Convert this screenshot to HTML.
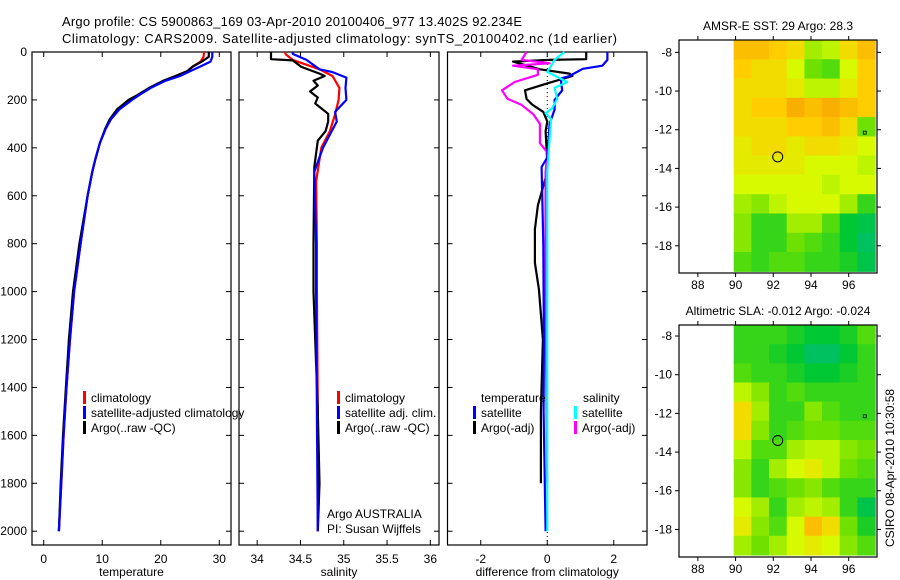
<!DOCTYPE html>
<html><head><meta charset="utf-8"><style>
html,body{margin:0;padding:0;background:#fff;}
svg{display:block;font-family:"Liberation Sans",sans-serif;}
</style></head><body>
<svg id="c" width="900" height="580" viewBox="0 0 900 580"></svg>
<script>
// ---- data ----
const tDepth = [0,20,40,60,80,100,120,150,180,200,240,280,320,380,450,500,600,700,800,1000,1200,1400,1600,1800,2000];
const tClim  = [27.4,27.3,26.8,25.5,24.5,23.0,20.5,18.2,16.3,15.0,12.9,11.5,10.6,9.6,8.8,8.3,7.5,6.9,6.3,5.2,4.5,3.9,3.4,3.0,2.6];
const tSat   = [28.8,28.8,28.5,26.8,25.0,23.3,20.8,18.3,16.3,15.1,12.9,11.5,10.6,9.6,8.8,8.3,7.5,6.9,6.3,5.2,4.5,3.9,3.4,3.0,2.6];
const tArgo  = [28.2,28.2,27.0,25.5,24.5,22.5,20.4,18.0,16.0,14.5,12.5,11.3,10.5,9.6,8.8,8.3,7.5,6.8,6.1,5.0,4.3,3.8,3.3,2.9,2.6];

const sClimDepth = [0,10,33,72,100,150,200,260,330,400,540,800,1000,1500,2000];
const sClim      = [34.32,34.33,34.41,34.72,34.87,34.95,34.94,34.90,34.84,34.74,34.68,34.69,34.69,34.70,34.70];
const sSatDepth  = [0,8,33,72,84,107,150,200,250,290,400,500,800,1000,1500,2000];
const sSat       = [34.41,34.41,34.57,34.72,34.87,35.03,35.02,35.03,34.90,34.92,34.76,34.66,34.68,34.68,34.69,34.70];
const sArgoDepth = [0,30,35,62,90,100,120,140,165,190,215,258,290,330,370,480,800,1000,1500,1800,2000];
const sArgo      = [34.16,34.16,34.41,34.51,34.72,34.78,34.65,34.70,34.61,34.70,34.67,34.82,34.82,34.79,34.70,34.66,34.65,34.65,34.70,34.72,34.70];

const dTSatDepth  = [0,33,57,70,100,110,130,160,200,240,300,440,480,800,1200,1500,2000];
const dTSat       = [1.81,1.81,1.66,1.07,0.67,0.42,0.42,0.45,0.22,0.22,0.07,0.0,-0.17,-0.12,-0.1,-0.11,-0.05];
const dTArgoDepth = [0,30,33,40,72,90,100,128,160,196,220,250,290,330,460,500,640,740,880,990,1200,1500,1800];
const dTArgo      = [1.17,1.17,0.07,-1.03,-0.22,0.67,0.76,0.07,-0.67,-0.62,-0.45,-0.12,0.0,-0.05,0.0,0.0,-0.28,-0.37,-0.37,-0.25,-0.13,-0.19,-0.19];
const dSSatDepth  = [0,33,57,83,125,150,195,235,255,280,360,500,1000,1500,2000];
const dSSat       = [0.52,0.22,0.12,0.0,0.6,0.22,0.3,0.15,-0.05,0.12,0.07,0.0,0.0,0.0,0.0];
const dSArgoDepth = [0,33,47,57,72,95,125,160,195,220,260,300,380,420,500,1000,1500,1800];
const dSArgo      = [-0.62,-0.77,0.07,-1.03,-0.28,-0.28,-0.98,-1.36,-1.2,-0.78,-0.42,-0.22,-0.22,0.0,-0.05,-0.06,-0.02,0.0];

const depthTicks = [0,200,400,600,800,1000,1200,1400,1600,1800,2000];
const tTicks = [0,10,20,30];
const sTicks = [34,34.5,35,35.5,36];
const dTicks = [-2,0,2];
const lonTicks = [88,90,92,94,96];
const latTicks = [-8,-10,-12,-14,-16,-18];

const sstGrid = [
 [0.8,0.8,0.75,0.7,0.5,0.55,0.7,0.8],
 [0.75,0.7,0.7,0.6,0.4,0.35,0.6,0.75],
 [0.7,0.7,0.7,0.65,0.55,0.55,0.65,0.75],
 [0.7,0.75,0.75,0.85,0.8,0.85,0.8,0.75],
 [0.7,0.7,0.7,0.75,0.75,0.8,0.7,0.4],
 [0.65,0.7,0.7,0.65,0.7,0.7,0.65,0.6],
 [0.65,0.65,0.65,0.65,0.6,0.6,0.6,0.55],
 [0.6,0.6,0.6,0.6,0.6,0.55,0.6,0.6],
 [0.5,0.45,0.55,0.6,0.6,0.6,0.5,0.3],
 [0.45,0.3,0.3,0.5,0.5,0.35,0.2,0.15],
 [0.45,0.3,0.3,0.4,0.35,0.3,0.2,0.1],
 [0.35,0.3,0.35,0.35,0.3,0.3,0.25,0.15]];
const slaGrid = [
 [0.3,0.3,0.3,0.25,0.2,0.2,0.25,0.35],
 [0.3,0.3,0.25,0.2,0.1,0.1,0.2,0.3],
 [0.35,0.3,0.3,0.25,0.2,0.2,0.25,0.3],
 [0.55,0.45,0.3,0.35,0.3,0.3,0.3,0.3],
 [0.7,0.5,0.3,0.3,0.45,0.35,0.3,0.3],
 [0.7,0.45,0.3,0.35,0.4,0.4,0.35,0.35],
 [0.55,0.35,0.35,0.5,0.55,0.55,0.45,0.4],
 [0.45,0.3,0.5,0.6,0.65,0.55,0.4,0.35],
 [0.45,0.3,0.35,0.4,0.45,0.35,0.3,0.3],
 [0.6,0.5,0.3,0.5,0.55,0.5,0.3,0.15],
 [0.65,0.45,0.35,0.6,0.8,0.7,0.4,0.25],
 [0.5,0.4,0.5,0.6,0.65,0.6,0.45,0.35]];
const floatLon = 92.234, floatLat = -13.402;

// ---- helpers ----
const NS = "http://www.w3.org/2000/svg";
const svg = document.getElementById('c');
function mk(tag, attrs, parent){
  const e = document.createElementNS(NS, tag);
  for (const k in attrs) e.setAttribute(k, attrs[k]);
  (parent||svg).appendChild(e);
  return e;
}
function txt(x,y,s,anchor,size,parent){
  const t = mk('text',{x:x,y:y,'font-size':size||12,'text-anchor':anchor||'start',fill:'#000'},parent);
  t.textContent = s; return t;
}
const Y0 = 52, YB = 545, DMAX = (YB-Y0)/0.2396;
const yD = d => Y0 + d*0.2396;

function panel(name,x0,x1,xmin,xmax,ticks,label,tickFmt,showY){
  const xs = v => x0 + (v-xmin)/(xmax-xmin)*(x1-x0);
  const g = mk('g',{});
  
  
  const r = mk('rect',{x:x0,y:Y0,width:x1-x0,height:YB-Y0,fill:'none',stroke:'#000','stroke-width':1.2},g);
  
  
  ticks.forEach(v=>{
    const x = xs(v);
    mk('line',{x1:x,x2:x,y1:YB,y2:YB-5,stroke:'#000'},g);
    mk('line',{x1:x,x2:x,y1:Y0,y2:Y0+5,stroke:'#000'},g);
    const t = txt(x,563,tickFmt(v),'middle',12,g);
    
    
  });
  depthTicks.forEach(d=>{
    const y = yD(d);
    mk('line',{x1:x0,x2:x0+5,y1:y,y2:y,stroke:'#000'},g);
    mk('line',{x1:x1,x2:x1-5,y1:y,y2:y,stroke:'#000'},g);
    if (showY){
      const t = txt(x0-5,y+4,String(d),'end',12,g);
      
      
    }
  });
  const l = txt((x0+x1)/2,576,label,'middle',12,g);
  
  
  return {xs,g};
}
function series(p,depths,vals,color,name,w){
  const pts = depths.map((d,i)=>p.xs(vals[i]).toFixed(1)+','+yD(d).toFixed(1)).join(' ');
  const pl = mk('polyline',{points:pts,fill:'none',stroke:color,'stroke-width':w||2.2,'stroke-linejoin':'round'},p.g);
  
  
}
function legendEntry(g,x,y,color,label,name){
  const e = mk('g',{},g);
  
  
  mk('rect',{x:x,y:y-11,width:3,height:13,fill:color},e);
  txt(x+8,y,label,'start',12,e);
}

// ---- titles ----
const t1 = txt(62,26,'Argo profile: CS 5900863_169 03-Apr-2010 20100406_977 13.402S 92.234E','start',13);
t1.setAttribute('textLength','460');


const t2 = txt(62,43,'Climatology: CARS2009. Satellite-adjusted climatology: synTS_20100402.nc (1d earlier)','start',13);
t2.setAttribute('textLength','555');



// ---- panel 1: temperature ----
const p1 = panel('temperature-panel',32,231,-2,32,tTicks,'temperature',v=>String(v),true);
series(p1,tDepth,tClim,'#ff0000','temperature-climatology-line');
series(p1,tDepth,tArgo,'#000000','temperature-argo-line');
series(p1,tDepth,tSat,'#0000ff','temperature-satellite-line');
legendEntry(p1.g,83,402,'#ff0000','climatology','legend-entry-climatology');
legendEntry(p1.g,83,417,'#0000ff','satellite-adjusted climatology','legend-entry-satellite-adjusted');
legendEntry(p1.g,83,432,'#000000','Argo(..raw -QC)','legend-entry-argo');

// ---- panel 2: salinity ----
const p2 = panel('salinity-panel',239,439,33.79,36.1,sTicks,'salinity',v=>String(v),false);
series(p2,sClimDepth,sClim,'#ff0000','salinity-climatology-line');
series(p2,sArgoDepth,sArgo,'#000000','salinity-argo-line');
series(p2,sSatDepth,sSat,'#0000ff','salinity-satellite-line');
legendEntry(p2.g,337,402,'#ff0000','climatology','legend-entry-sal-climatology');
legendEntry(p2.g,337,417,'#0000ff','satellite adj. clim.','legend-entry-sal-satellite');
legendEntry(p2.g,337,432,'#000000','Argo(..raw -QC)','legend-entry-sal-argo');
const ag = txt(327,518,'Argo AUSTRALIA','start',12,p2.g);


const pi = txt(327,533,'PI: Susan Wijffels','start',12,p2.g);



// ---- panel 3: differences ----
const p3 = panel('difference-panel',447.5,647,-3,3,dTicks,'difference from climatology',v=>String(v),false);
const zl = mk('line',{x1:p3.xs(0),x2:p3.xs(0),y1:Y0,y2:YB,stroke:'#000','stroke-dasharray':'1,3'},p3.g);


series(p3,dTArgoDepth,dTArgo,'#000000','diff-temperature-argo-line');
series(p3,dSArgoDepth,dSArgo,'#ff00ff','diff-salinity-argo-line');
series(p3,dTSatDepth,dTSat,'#0000ff','diff-temperature-satellite-line');
series(p3,dSSatDepth,dSSat,'#00ffff','diff-salinity-satellite-line');
const lt = txt(481,402,'temperature','start',12,p3.g);


const ls = txt(583,402,'salinity','start',12,p3.g);


legendEntry(p3.g,473,417,'#0000ff','satellite','legend-entry-diff-temp-satellite');
legendEntry(p3.g,473,432,'#000000','Argo(-adj)','legend-entry-diff-temp-argo');
legendEntry(p3.g,574,417,'#00ffff','satellite','legend-entry-diff-sal-satellite');
legendEntry(p3.g,574,432,'#ff00ff','Argo(-adj)','legend-entry-diff-sal-argo');

// ---- maps ----
const stops = [[0,[0,185,140]],[0.2,[0,200,50]],[0.4,[110,225,0]],[0.6,[215,250,0]],[0.75,[255,205,0]],[0.9,[245,160,0]],[1,[230,110,0]]];
function cmap(v){
  for (let i=1;i<stops.length;i++){
    if (v<=stops[i][0]){
      const a=stops[i-1],b=stops[i],f=(v-a[0])/(b[0]-a[0]);
      const c=a[1].map((q,k)=>Math.round(q+(b[1][k]-q)*f));
      return 'rgb('+c.join(',')+')';
    }
  }
  return 'rgb(230,110,0)';
}
function mapPanel(name,top,bottom,latTop,title,grid){
  const x0=679,x1=877;
  const lonMin=87.0,lonMax=97.5;
  const pxDeg=19.34;
  const xs = lon => x0 + (lon-lonMin)/(lonMax-lonMin)*(x1-x0);
  const ys = lat => top + (latTop-lat)*pxDeg;
  const g = mk('g',{});
  
  
  const rows=grid.length, cols=grid[0].length;
  const lonA=89.9, lonB=97.4, latA=latTop, latB=-19.32;
  const cw=(lonB-lonA)/cols, rh=(latA-latB)/rows;
  grid.forEach((row,r)=>row.forEach((v,c)=>{
    const xa=xs(lonA+c*cw), xb=xs(lonA+(c+1)*cw);
    const ya=ys(latA-r*rh), yb=ys(latA-(r+1)*rh);
    const cell = mk('rect',{x:xa,y:ya,width:xb-xa+0.6,height:yb-ya+0.6,fill:cmap(v)},g);
    
    
  }));
  const fr = mk('rect',{x:x0,y:top,width:x1-x0,height:bottom-top,fill:'none',stroke:'#000','stroke-width':1.2},g);
  
  
  lonTicks.forEach(v=>{
    const x=xs(v);
    mk('line',{x1:x,x2:x,y1:bottom,y2:bottom+4,stroke:'#000'},g);
    mk('line',{x1:x,x2:x,y1:top,y2:top-4,stroke:'#000'},g);
    const t=txt(x,bottom+16,String(v),'middle',12,g);
    
    
  });
  latTicks.forEach(v=>{
    const y=ys(v);
    mk('line',{x1:x0,x2:x0-4,y1:y,y2:y,stroke:'#000'},g);
    mk('line',{x1:x1,x2:x1+4,y1:y,y2:y,stroke:'#000'},g);
    const t=txt(x0-7,y+4,String(v),'end',12,g);
    
    
  });
  const c = mk('circle',{cx:xs(floatLon),cy:ys(floatLat),r:5,fill:'none',stroke:'#000','stroke-width':1},g);
  
  
  mk('rect',{x:xs(96.85)-1.5,y:ys(-12.15)-1.5,width:3,height:3,fill:'none',stroke:'#000','stroke-width':0.8},g);
  const tt = txt((x0+x1)/2,top-10,title,'middle',12,g);
  
  
}
mapPanel('sst-map',40,273,-7.36,'AMSR-E SST: 29 Argo: 28.3',sstGrid);
mapPanel('sla-map',325,557,-7.43,'Altimetric SLA: -0.012 Argo: -0.024',slaGrid);

const cs = txt(0,0,'CSIRO 08-Apr-2010 10:30:58','middle',12);
cs.setAttribute('transform','translate(894,468) rotate(-90)');


</script>
</body></html>
